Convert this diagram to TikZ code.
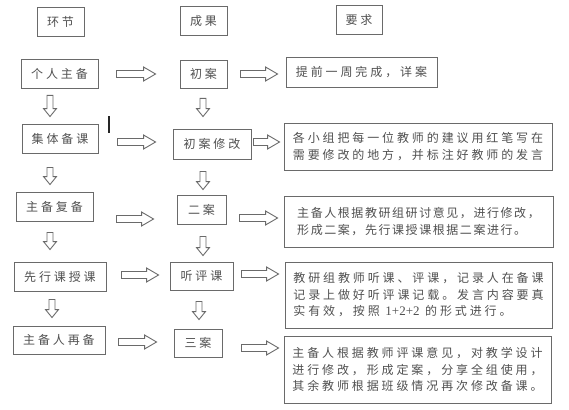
\documentclass[tikz,border=0pt]{standalone}
\usepackage{fontspec}
\newfontfamily\cjk[LetterSpace=24]{Noto Sans CJK SC}
\newfontfamily\cjknarrow[LetterSpace=13]{Noto Sans CJK SC}
\newfontfamily\lat{Liberation Serif}
\usetikzlibrary{calc}
\definecolor{txt}{HTML}{505050}
\definecolor{edge}{HTML}{6A6A6A}
\tikzset{
  box/.style={draw=edge, line width=0.9pt, inner sep=0pt, align=left, text=txt,
    font=\cjk\fontsize{12}{16.5}\selectfont},
  harrow/.style={draw=edge, line width=0.9pt, to path={let \p1=(\tikztostart), \p2=(\tikztotarget) in
    (\x1,\y1+3.5pt) -- (\x2-12pt,\y1+3.5pt) -- (\x2-12pt,\y1+7pt) -- (\x2,\y1)
    -- (\x2-12pt,\y1-7pt) -- (\x2-12pt,\y1-3.5pt) -- (\x1,\y1-3.5pt) -- cycle}},
  varrow/.style={draw=edge, line width=0.9pt, to path={let \p1=(\tikztostart), \p2=(\tikztotarget) in
    (\x1-3pt,\y1) -- (\x1-3pt,\y2+8pt) -- (\x1-6.5pt,\y2+8pt) -- (\x1,\y2)
    -- (\x1+6.5pt,\y2+8pt) -- (\x1+3pt,\y2+8pt) -- (\x1+3pt,\y1) -- cycle}}
}
\begin{document}
\begin{tikzpicture}[x=1pt,y=-1pt]
\useasboundingbox (0,0) rectangle (569,409);
% headers
\node[box, minimum width=47, minimum height=29] (h1) at (60.5,21.5) {环节};
\node[box, minimum width=47, minimum height=29] (h2) at (203.5,20.5) {成果};
\node[box, minimum width=46, minimum height=29] (h3) at (359,19.5) {要求};
% left column
\node[box, minimum width=77, minimum height=29] (p1) at (59.5,73.5) {个人主备};
\node[box, minimum width=76, minimum height=29] (p2) at (60,138.5) {集体备课};
\node[box, minimum width=77, minimum height=29] (p3) at (54.5,206.5) {主备复备};
\node[box, minimum width=92, minimum height=29] (p4) at (60,276.5) {先行课授课};
\node[box, minimum width=92, minimum height=28] (p5) at (59,340) {主备人再备};
% middle column
\node[box, minimum width=47, minimum height=28] (r1) at (203.5,74) {初案};
\node[box, minimum width=78, minimum height=30] (r2) at (212,144) {初案修改};
\node[box, minimum width=49, minimum height=29] (r3) at (201.5,209.5) {二案};
\node[box, minimum width=63, minimum height=28] (r4) at (201.5,276) {听评课};
\node[box, minimum width=48, minimum height=28] (r5) at (198,343) {三案};
% right column
\node[box, minimum width=151, minimum height=30] (q1) at (361.5,72) {提前一周完成，详案};
\node[box, minimum width=268, minimum height=47] (q2) at (418,146.5) {各小组把每一位教师的建议用红笔写在\\需要修改的地方，并标注好教师的发言};
\node[box, minimum width=269, minimum height=51, font=\cjknarrow\fontsize{12}{16.5}\selectfont] (q3) at (418.5,221.5) {主备人根据教研组研讨意见，进行修改，\\形成二案，先行课授课根据二案进行。};
\node[box, minimum width=267, minimum height=66] (q4) at (418.5,295) {教研组教师听课、评课，记录人在备课\\记录上做好听评课记载。发言内容要真\\实有效，按照 {\lat\fontsize{13}{16.5}\selectfont 1+2+2} 的形式进行。};
\node[box, minimum width=267, minimum height=67] (q5) at (417.5,369.5) {主备人根据教师评课意见，对教学设计\\进行修改，形成定案，分享全组使用，\\其余教师根据班级情况再次修改备课。};
% horizontal arrows
\draw[harrow] ($(p1.east)+(18,0.5)$) to ($(r1.west)+(-24,0)$);
\draw[harrow] ($(r1.east)+(13,0)$) to ($(q1.west)+(-8,2)$);
\draw[harrow] ($(p2.east)+(19,3.5)$) to ($(r2.west)+(-17,-2)$);
\draw[harrow] ($(r2.east)+(2,-2)$) to ($(q2.west)+(-4,-4.5)$);
\draw[harrow] ($(p3.east)+(23,12.5)$) to ($(r3.west)+(-23,9.5)$);
\draw[harrow] ($(r3.east)+(13,8.5)$) to ($(q3.west)+(-6,-3.5)$);
\draw[harrow] ($(p4.east)+(15,-1.5)$) to ($(r4.west)+(-11,-1)$);
\draw[harrow] ($(r4.east)+(8,-2)$) to ($(q4.west)+(-6,-21)$);
\draw[harrow] ($(p5.east)+(13,2)$) to ($(r5.west)+(-17,-1)$);
\draw[harrow] ($(r5.east)+(19,5)$) to ($(q5.west)+(-5,-21.5)$);
% vertical arrows
\draw[varrow] ($(p1.south)+(-9.5,7)$) to ($(p2.north)+(-10,-7)$);
\draw[varrow] ($(r1.south)+(-0.5,10)$) to ($(r2.north)+(-9,-12)$);
\draw[varrow] ($(p2.south)+(-10,14)$) to ($(p3.north)+(-4.5,-7)$);
\draw[varrow] ($(r2.south)+(-9,12)$) to ($(r3.north)+(1.5,-5)$);
\draw[varrow] ($(p3.south)+(-4.5,11)$) to ($(p4.north)+(-10,-12)$);
\draw[varrow] ($(r3.south)+(1.5,12)$) to ($(r4.north)+(1.5,-6)$);
\draw[varrow] ($(p4.south)+(-8,8)$) to ($(p5.north)+(-7,-8)$);
\draw[varrow] ($(r4.south)+(-2.5,11)$) to ($(r5.north)+(1,-9)$);
% stray mark
\coordinate (m1) at (109,116);
\coordinate (m2) at (109,133);
\draw[line width=1.2pt, black!85] (m1) -- (m2);
\end{tikzpicture}
\end{document}
